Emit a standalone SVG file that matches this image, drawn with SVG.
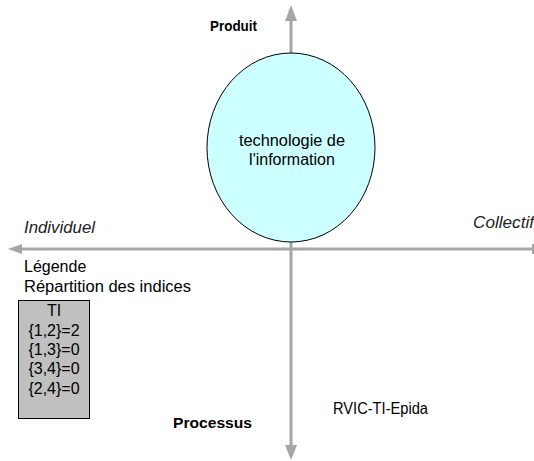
<svg xmlns="http://www.w3.org/2000/svg" width="534" height="461" viewBox="0 0 534 461">
<style>
text{font-family:"Liberation Sans",Arial,sans-serif;fill:#000}
.n{font-size:16px}
.b{font-size:14px;font-weight:bold}
.i{font-size:16px;font-style:italic;fill:#222}
.ax{stroke:#A6A6A6;stroke-width:3;fill:none}
.ah{fill:#A6A6A6}
</style>
<rect width="534" height="461" fill="#fff"/>
<g id="connectors">
<line class="ax" x1="291" y1="20" x2="291" y2="448"/>
<polygon class="ah" points="291,5 285,21 297,21"/>
<polygon class="ah" points="291,460 285,445 297,445"/>
<line class="ax" x1="20" y1="249" x2="533" y2="249"/>
<polygon class="ah" points="8,249 22,244 22,254"/>
<line x1="533" y1="244" x2="533" y2="254" stroke="#A6A6A6" stroke-width="2"/>
</g>
<g id="node-ti">
<ellipse cx="291" cy="147.5" rx="84" ry="94.5" fill="#CCFFFF" stroke="#000" stroke-width="1"/>
<text class="n" x="292" y="146" text-anchor="middle" textLength="106" lengthAdjust="spacingAndGlyphs">technologie de</text>
<text class="n" x="292" y="165" text-anchor="middle">l'information</text>
</g>
<g id="labels">
<text class="b" x="210" y="31" textLength="47" lengthAdjust="spacingAndGlyphs">Produit</text>
<text class="b" x="173" y="428" textLength="79" lengthAdjust="spacingAndGlyphs">Processus</text>
<text class="i" x="24" y="233" textLength="71" lengthAdjust="spacingAndGlyphs">Individuel</text>
<text class="i" x="473" y="228" textLength="61" lengthAdjust="spacingAndGlyphs">Collectif</text>
<text class="n" x="333" y="414" textLength="95" lengthAdjust="spacingAndGlyphs">RVIC-TI-Epida</text>
</g>
<g id="legend">
<text class="n" x="24" y="272">Légende</text>
<text class="n" x="24" y="292" textLength="167" lengthAdjust="spacingAndGlyphs">Répartition des indices</text>
<rect x="18.5" y="300.5" width="71" height="118" fill="#C0C0C0" stroke="#000" stroke-width="1"/>
<text class="n" x="54" y="316" text-anchor="middle">TI</text>
<text class="n" x="54" y="336" text-anchor="middle">{1,2}=2</text>
<text class="n" x="54" y="355" text-anchor="middle">{1,3}=0</text>
<text class="n" x="54" y="374" text-anchor="middle">{3,4}=0</text>
<text class="n" x="54" y="394" text-anchor="middle">{2,4}=0</text>
</g>
</svg>
